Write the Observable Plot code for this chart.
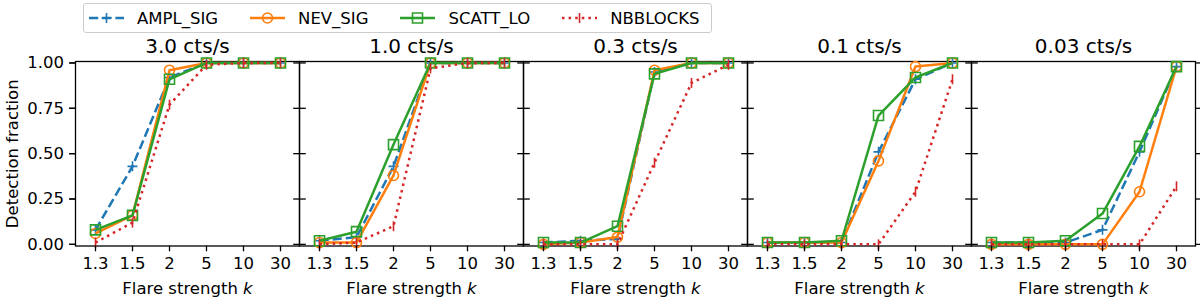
<!DOCTYPE html>
<html><head><meta charset="utf-8">
<script src="https://cdn.jsdelivr.net/npm/d3@7"></script>
<script src="https://cdn.jsdelivr.net/npm/@observablehq/plot@0.6"></script>
<style>
body{margin:0;background:#fff;font-family:"DejaVu Sans",sans-serif;}
#head{position:relative;width:1200px;height:33px;}
#legend{position:absolute;left:83px;top:3px;width:629px;height:30px;box-sizing:border-box;border:1px solid #cccccc;border-radius:3px;display:flex;align-items:center;font-size:16.5px;color:#000;padding-left:5px;}
#legend .item{display:flex;align-items:center;margin-right:32px;}
#legend svg{margin-right:13px;}
#chart svg{display:block;}
</style></head>
<body>
<div id="head"><div id="legend"></div></div>
<div id="chart"></div>
<script>
const rates = ["3.0 cts/s","1.0 cts/s","0.3 cts/s","0.1 cts/s","0.03 cts/s"];
const strengths = ["1.3","1.5","2","5","10","30"];
const methods = ["AMPL_SIG","NEV_SIG","SCATT_LO","NBBLOCKS"];
const yTicks = [0,0.25,0.5,0.75,1.0];

// rows: one per rate (facet), columns: flare strengths
const amplSig = [
  [0.08,0.43,0.92,1.00,1.00,1.00],
  [0.02,0.04,0.43,1.00,1.00,1.00],
  [0.01,0.02,0.03,0.95,1.00,1.00],
  [0.01,0.01,0.01,0.51,0.91,1.00],
  [0.01,0.01,0.01,0.08,0.51,0.98]];
const nevSig = [
  [0.06,0.16,0.96,1.00,1.00,1.00],
  [0.01,0.01,0.38,1.00,1.00,1.00],
  [0.00,0.01,0.04,0.96,1.00,1.00],
  [0.01,0.01,0.01,0.46,0.98,1.00],
  [0.00,0.00,0.00,0.00,0.29,0.98]];
const scattLo = [
  [0.08,0.16,0.91,1.00,1.00,1.00],
  [0.02,0.07,0.55,1.00,1.00,1.00],
  [0.01,0.01,0.10,0.94,1.00,1.00],
  [0.01,0.01,0.02,0.71,0.92,1.00],
  [0.01,0.01,0.02,0.17,0.54,0.98]];
const nbBlocks = [
  [0.01,0.12,0.77,0.99,1.00,1.00],
  [0.00,0.01,0.10,0.97,1.00,1.00],
  [0.00,0.00,0.00,0.45,0.89,0.99],
  [0.00,0.00,0.00,0.00,0.29,0.91],
  [0.00,0.00,0.00,0.00,0.00,0.32]];

const seriesValues = [amplSig, nevSig, scattLo, nbBlocks];
const colors = ["#1f77b4","#ff7f0e","#2ca02c","#d62728"];
const dashes = ["9.2,4", null, null, "2.5,4.1"];

const sym = {
  plus: {draw(c,s){const r=Math.sqrt(s/Math.PI);c.moveTo(-r,0);c.lineTo(r,0);c.moveTo(0,-r);c.lineTo(0,r);}},
  circle: {draw(c,s){const r=Math.sqrt(s/Math.PI);c.moveTo(r,0);c.arc(0,0,r,0,2*Math.PI);c.closePath();}},
  square: {draw(c,s){const r=Math.sqrt(s/Math.PI);c.rect(-r,-r,2*r,2*r);}},
  vline: {draw(c,s){const r=Math.sqrt(s/Math.PI);c.moveTo(0,-r);c.lineTo(0,r);}}
};
const symbols = [sym.plus, sym.circle, sym.square, sym.vline];

function rowsFor(mi){
  const out = [];
  seriesValues[mi].forEach((arr, ri) => arr.forEach((v, ki) => out.push({rate: rates[ri], k: strengths[ki], v, method: methods[mi]})));
  return out;
}

const marks = [Plot.frame({stroke:"black", strokeWidth:1.3})];
methods.forEach((m, i) => {
  const d = rowsFor(i);
  marks.push(Plot.line(d, {fx:"rate", x:"k", y:"v", stroke: colors[i], strokeWidth: 2.5, strokeDasharray: dashes[i], strokeLinecap: "butt", strokeLinejoin:"round"}));
  marks.push(Plot.dot(d, {fx:"rate", x:"k", y:"v", symbol: symbols[i], r: 5, stroke: colors[i], strokeWidth: 1.6, fill: "none"}));
});
marks.push(
  Plot.axisY({anchor:"left", ticks: yTicks, tickFormat: d => d.toFixed(2), tickSize: 5.8, tickPadding: 5.6, fontSize: 16.5, label: "Detection fraction", labelAnchor: "center", labelArrow: "none", labelOffset: 69, strokeWidth: 1.3}),
  Plot.axisY({anchor:"left", ticks: yTicks, tickSize: 5.8, tickFormat: () => "", label: null, facetAnchor: null, strokeWidth: 1.3}),
  Plot.axisY({anchor:"right", ticks: yTicks, tickSize: 5.8, tickFormat: () => "", label: null, facetAnchor: null, strokeWidth: 1.3}),
  Plot.axisX({anchor:"bottom", tickSize: 5.8, tickPadding: 5.6, fontSize: 16.5, label: null, strokeWidth: 1.3}),
  Plot.axisFx({anchor:"top", tickSize: 0, tickPadding: 9, fontSize: 20, label: null}),
  Plot.text(rates, {fx: d => d, frameAnchor: "bottom", dy: 42.5, lineAnchor: "middle", text: () => "Flare strength k", fontSize: 16.5})
);

const chart = Plot.plot({
  width: 1200, height: 268,
  marginLeft: 74, marginRight: 4, marginTop: 28, marginBottom: 55.5,
  style: {fontFamily: "DejaVu Sans", color: "black", background: "white"},
  fx: {domain: rates, padding: 0},
  x: {domain: strengths, padding: 0.5},
  y: {domain: [-0.009, 1.008]},
  marks
});
document.getElementById("chart").appendChild(chart);

d3.select(chart).selectAll("text").each(function(){
  if (this.textContent === "Flare strength k") {
    this.textContent = "Flare strength ";
    d3.select(this).append("tspan").attr("font-style","italic").text("k");
  }
});

// legend
const leg = d3.select("#legend");
methods.forEach((m, i) => {
  const it = leg.append("div").attr("class","item");
  const s = it.append("svg").attr("width",35).attr("height",16);
  s.append("line").attr("x1",0).attr("x2",35).attr("y1",8).attr("y2",8)
    .attr("stroke",colors[i]).attr("stroke-width",2.5).attr("stroke-dasharray",dashes[i]);
  const path = d3.path(); symbols[i].draw(path, Math.PI*5*5);
  s.append("path").attr("transform","translate(17.5,8)").attr("d", path.toString())
    .attr("stroke",colors[i]).attr("stroke-width",1.6).attr("fill","none");
  it.append("span").text(m);
});
</script>
</body></html>
